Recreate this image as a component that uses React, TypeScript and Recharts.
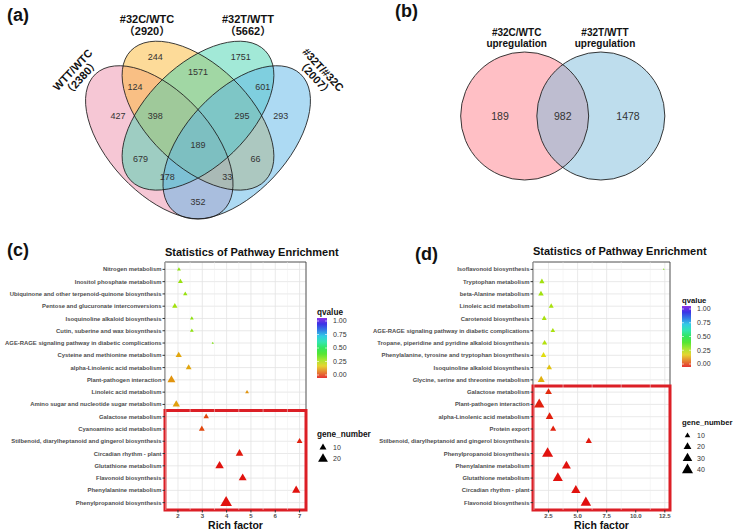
import React from 'react'
import {
  ScatterChart,
  Scatter,
  XAxis,
  YAxis,
  CartesianGrid,
  ReferenceArea,
  ReferenceLine,
} from 'recharts'

const FONT = '"Liberation Sans", Arial, "Noto Sans CJK SC", sans-serif'

// (a) four-set venn
const setNamesA = ['WTT/WTC', '#32C/WTC', '#32T/WTT', '#32T/#32C']
const setTotalsA = [2380, 2920, 5662, 2007]
const regionKeysA = ['A', 'B', 'C', 'D', 'AB', 'BC', 'CD', 'AC', 'BD', 'AD', 'ABC', 'BCD', 'ACD', 'ABD', 'ABCD']
const regionCountsA = [427, 244, 1751, 293, 124, 1571, 601, 679, 66, 352, 398, 295, 178, 33, 189]

// (b) two-set venn
const setNamesB = ['#32C/WTC', '#32T/WTT']
const regionCountsB = [189, 982, 1478]

// (c) enrichment
const pathwaysC = [
  'Nitrogen metabolism',
  'Inositol phosphate metabolism',
  'Ubiquinone and other terpenoid-quinone biosynthesis',
  'Pentose and glucuronate interconversions',
  'Isoquinoline alkaloid biosynthesis',
  'Cutin, suberine and wax biosynthesis',
  'AGE-RAGE signaling pathway in diabetic complications',
  'Cysteine and methionine metabolism',
  'alpha-Linolenic acid metabolism',
  'Plant-pathogen interaction',
  'Linoleic acid metabolism',
  'Amino sugar and nucleotide sugar metabolism',
  'Galactose metabolism',
  'Cyanoamino acid metabolism',
  'Stilbenoid, diarylheptanoid and gingerol biosynthesis',
  'Circadian rhythm - plant',
  'Glutathione metabolism',
  'Flavonoid biosynthesis',
  'Phenylalanine metabolism',
  'Phenylpropanoid biosynthesis',
]
const richC = [2.04, 2.1, 2.3, 1.87, 2.57, 2.57, 3.43, 2.03, 2.44, 1.73, 4.84, 1.93, 3.16, 2.98, 7.0, 4.53, 3.71, 4.66, 6.86, 3.98]
const genesC = [3, 5, 4, 6, 3, 3, 1, 8, 7, 13, 3, 11, 6, 7, 7, 12, 15, 13, 14, 28]
const qC = [0.31, 0.3, 0.3, 0.29, 0.31, 0.31, 0.33, 0.16, 0.16, 0.14, 0.14, 0.15, 0.06, 0.06, 0.02, 0.01, 0.005, 0.005, 0.005, 0.002]
const xTicksC = [2, 3, 4, 5, 6, 7]
const xMinorC = [1.5, 2.5, 3.5, 4.5, 5.5, 6.5]
const geneLegendC = [10, 20]

// (d) enrichment
const pathwaysD = [
  'Isoflavonoid biosynthesis',
  'Tryptophan metabolism',
  'beta-Alanine metabolism',
  'Linoleic acid metabolism',
  'Carotenoid biosynthesis',
  'AGE-RAGE signaling pathway in diabetic complications',
  'Tropane, piperidine and pyridine alkaloid biosynthesis',
  'Phenylalanine, tyrosine and tryptophan biosynthesis',
  'Isoquinoline alkaloid biosynthesis',
  'Glycine, serine and threonine metabolism',
  'Galactose metabolism',
  'Plant-pathogen interaction',
  'alpha-Linolenic acid metabolism',
  'Protein export',
  'Stilbenoid, diarylheptanoid and gingerol biosynthesis',
  'Phenylpropanoid biosynthesis',
  'Phenylalanine metabolism',
  'Glutathione metabolism',
  'Circadian rhythm - plant',
  'Flavonoid biosynthesis',
]
const richD = [12.41, 1.93, 1.85, 2.73, 2.13, 2.87, 2.16, 2.07, 2.56, 1.87, 2.5, 1.7, 2.59, 2.9, 5.96, 2.42, 4.04, 3.3, 4.85, 5.71]
const genesD = [1, 9, 10, 8, 8, 7, 9, 10, 10, 16, 15, 35, 19, 12, 13, 40, 26, 33, 28, 36]
const qD = [0.33, 0.29, 0.29, 0.28, 0.28, 0.28, 0.27, 0.22, 0.19, 0.17, 0.03, 0.02, 0.02, 0.02, 0.01, 0.005, 0.005, 0.003, 0.003, 0.001]
const xTicksD = [2.5, 5, 7.5, 10, 12.5]
const xMinorD = [1.25, 3.75, 6.25, 8.75, 11.25]
const geneLegendD = [10, 20, 30, 40]

const qLegendTicks = [1, 0.75, 0.5, 0.25, 0]

// ---------- layout ----------
// quad venn, VennDiagram-style units
const PXU_A = 267
const ELLIPSE_AXES_A = [0.35, 0.19]
const ELLIPSES_A = [
  { x: 0.355, y: 0.47, rot: 47, fill: '#EE8FAC' },
  { x: 0.5, y: 0.57, rot: 44, fill: '#FBB733' },
  { x: 0.5, y: 0.57, rot: -44, fill: '#45D3B0' },
  { x: 0.645, y: 0.47, rot: -47, fill: '#5BB6E8' },
]
const REGION_POS_A: Record<string, [number, number]> = {
  A: [0.2, 0.569], B: [0.34, 0.79], C: [0.66, 0.79], D: [0.81, 0.569],
  AB: [0.264, 0.678], BC: [0.5, 0.734], CD: [0.743, 0.678], AC: [0.285, 0.408],
  BD: [0.715, 0.408], AD: [0.5, 0.247], ABC: [0.34, 0.569], BCD: [0.665, 0.569],
  ACD: [0.385, 0.341], ABD: [0.61, 0.341], ABCD: [0.5, 0.461],
}
const SET_POS_A = [
  { x: 0.046, y: 0.728, rot: -47, anchor: 'center' },
  { x: 0.309, y: 0.9165, rot: 0, anchor: 'baseline' },
  { x: 0.687, y: 0.9165, rot: 0, anchor: 'baseline' },
  { x: 0.954, y: 0.728, rot: 47, anchor: 'center' },
]

const PXU_B = 64
const CIRCLES_B = [
  { x: -0.595, y: 0, fill: '#FF7F8C' },
  { x: 0.595, y: 0, fill: '#7DBCDB' },
]
const REGION_POS_B: [number, number][] = [[-0.98, 0], [0, 0], [1.02, 0]]
const SET_POS_B = [{ x: -0.72, y: 1.245 }, { x: 0.66, y: 1.245 }]

const qColor = (q: number) => `hsl(${Math.round(270 * q)}, 88%, 47%)`

const triangle = (cx: number, cy: number, w: number, fill: string, key?: any) => {
  const h = w * 0.866
  return (
    <polygon
      key={key}
      points={`${cx},${cy - (2 * h) / 3} ${cx - w / 2},${cy + h / 3} ${cx + w / 2},${cy + h / 3}`}
      fill={fill}
    />
  )
}

// ---------- venn shapes ----------
const EllipseFill = (p: any) => (
  <ellipse
    cx={p.cx}
    cy={p.cy}
    rx={ELLIPSE_AXES_A[0] * PXU_A}
    ry={ELLIPSE_AXES_A[1] * PXU_A}
    transform={`rotate(${p.payload.rot} ${p.cx} ${p.cy})`}
    fill={p.payload.fill}
    fillOpacity={0.5}
    stroke="none"
  />
)
const EllipseLine = (p: any) => (
  <ellipse
    cx={p.cx}
    cy={p.cy}
    rx={ELLIPSE_AXES_A[0] * PXU_A}
    ry={ELLIPSE_AXES_A[1] * PXU_A}
    transform={`rotate(${p.payload.rot} ${p.cx} ${p.cy})`}
    fill="none"
    stroke="#1a1a1a"
    strokeWidth={0.8}
  />
)
const CircleFill = (p: any) => (
  <circle cx={p.cx} cy={p.cy} r={PXU_B} fill={p.payload.fill} fillOpacity={0.5} stroke="none" />
)
const CircleLine = (p: any) => (
  <circle cx={p.cx} cy={p.cy} r={PXU_B} fill="none" stroke="#222" strokeWidth={0.9} />
)
const countText = (size: number) => (p: any) => (
  <text x={p.cx} y={p.cy} dy="0.35em" textAnchor="middle" fontSize={size} fontFamily={FONT} fill="#333">
    {p.payload.label}
  </text>
)
const SetTitleA = (p: any) => {
  const { label, sub, rot, anchor } = p.payload
  const y1 = anchor === 'center' ? -5.5 : 0
  const dy = anchor === 'center' ? '0.35em' : '0'
  return (
    <g transform={`translate(${p.cx},${p.cy}) rotate(${rot})`} fontFamily={FONT} fontWeight={700} fontSize={11} fill="#111">
      <text x={0} y={y1} dy={dy} textAnchor="middle">{label}</text>
      <text x={0} y={y1 + 11.5} dy={dy} textAnchor="middle">{sub}</text>
    </g>
  )
}
const SetTitleB = (p: any) => (
  <g fontFamily={FONT} fontWeight={700} fontSize={10} fill="#111">
    <text x={p.cx} y={p.cy} textAnchor="middle">{p.payload.label}</text>
    <text x={p.cx} y={p.cy + 11} textAnchor="middle">upregulation</text>
  </g>
)

function VennA() {
  const ellipses = ELLIPSES_A.map((e) => ({ ...e }))
  const regions = regionKeysA.map((k, i) => ({ x: REGION_POS_A[k][0], y: REGION_POS_A[k][1], label: regionCountsA[i] }))
  const sets = setNamesA.map((n, i) => ({ ...SET_POS_A[i], label: n, sub: `（${setTotalsA[i]}）` }))
  return (
    <ScatterChart width={370} height={242} margin={{ top: 1, right: 38.5, bottom: 1, left: 64.5 }}>
      <XAxis type="number" dataKey="x" domain={[0, 1]} hide />
      <YAxis type="number" dataKey="y" domain={[0.1, 1]} hide />
      <Scatter data={ellipses} shape={EllipseFill} isAnimationActive={false} />
      <Scatter data={ellipses} shape={EllipseLine} isAnimationActive={false} />
      <Scatter data={regions} shape={countText(9)} isAnimationActive={false} />
      <Scatter data={sets} shape={SetTitleA} isAnimationActive={false} />
    </ScatterChart>
  )
}

function VennB() {
  const circles = CIRCLES_B.map((c) => ({ ...c }))
  const regions = regionCountsB.map((v, i) => ({ x: REGION_POS_B[i][0], y: REGION_POS_B[i][1], label: v }))
  const sets = setNamesB.map((n, i) => ({ ...SET_POS_B[i], label: n }))
  return (
    <ScatterChart width={364} height={230} margin={{ top: 4, right: 36.85, bottom: 11.6, left: 58.35 }}>
      <XAxis type="number" dataKey="x" domain={[-2.1, 2.1]} hide />
      <YAxis type="number" dataKey="y" domain={[-1.6, 1.75]} hide />
      <Scatter data={circles} shape={CircleFill} isAnimationActive={false} />
      <Scatter data={circles} shape={CircleLine} isAnimationActive={false} />
      <Scatter data={regions} shape={countText(10.5)} isAnimationActive={false} />
      <Scatter data={sets} shape={SetTitleB} isAnimationActive={false} />
    </ScatterChart>
  )
}

// ---------- enrichment panel ----------
interface PanelProps {
  width: number
  names: string[]
  rich: number[]
  genes: number[]
  q: number[]
  xTicks: number[]
  xMinor: number[]
  boxFrom: number
  k: number
  yAxisWidth: number
  fmt: (v: number) => string
}

function PathwayPanel({ width, names, rich, genes, q, xTicks, xMinor, boxFrom, k, yAxisWidth, fmt }: PanelProps) {
  const data = names.map((n, i) => ({ idx: i + 1, rich: rich[i], genes: genes[i], q: q[i] }))
  const lo = Math.min(...rich)
  const hi = Math.max(...rich)
  const pad = (hi - lo) * 0.05
  const xDomain = [lo - pad, hi + pad]
  const yDomain = [0.4, names.length + 0.6]
  const yTicks = names.map((_, i) => i + 1)

  const YTick = (p: any) => (
    <text x={p.x} y={p.y} dy="0.35em" textAnchor="end" fontSize={5.9} fontWeight={700} fill="#4D4D4D" fontFamily={FONT}>
      {names[p.payload.value - 1]}
    </text>
  )
  const Tri = (p: any) => triangle(p.cx, p.cy, k * Math.sqrt(p.payload.genes), qColor(p.payload.q))

  return (
    <ScatterChart width={width} height={290} margin={{ top: 22, right: 64, bottom: 0, left: 3 }}>
      <CartesianGrid stroke="#E3E3E3" strokeWidth={0.8} />
      {xMinor.map((v) => (
        <ReferenceLine key={v} x={v} stroke="#EDEDED" strokeWidth={0.5} />
      ))}
      <XAxis
        type="number"
        dataKey="rich"
        domain={xDomain}
        ticks={xTicks}
        allowDataOverflow
        tickFormatter={fmt}
        tick={{ fontSize: 6, fontWeight: 700, fill: '#4D4D4D', fontFamily: FONT }}
        tickLine={{ stroke: '#333' }}
        tickSize={2.5}
        tickMargin={1}
        axisLine={false}
        height={20}
        label={{ value: 'Rich factor', position: 'insideBottom', offset: 1, fontSize: 10.5, fontWeight: 700, fill: '#111', fontFamily: FONT }}
      />
      <YAxis
        type="number"
        dataKey="idx"
        domain={yDomain}
        reversed
        ticks={yTicks}
        interval={0}
        allowDataOverflow
        tick={YTick}
        tickLine={{ stroke: '#333' }}
        tickSize={2.5}
        tickMargin={1}
        axisLine={false}
        width={yAxisWidth}
      />
      <ReferenceArea x1={xDomain[0]} x2={xDomain[1]} y1={yDomain[0]} y2={yDomain[1]} fill="none" stroke="#333" strokeWidth={0.8} />
      <Scatter data={data} shape={Tri} isAnimationActive={false} />
      <ReferenceArea x1={xDomain[0]} x2={xDomain[1]} y1={boxFrom} y2={yDomain[1]} fill="none" stroke="#DC1F26" strokeWidth={3} />
    </ScatterChart>
  )
}

// ---------- legends ----------
function Legends({ id, x, qTitleY, barY, barW, barH, labelX, fs, titleFs, geneTitleY, geneYs, geneVals, k }: any) {
  const inset = 3
  const pos = (v: number) => barY + inset + (1 - v) * (barH - 2 * inset)
  const stops = [0, 0.1, 0.2, 0.3, 0.4, 0.5, 0.6, 0.7, 0.8, 0.9, 1]
  return (
    <g fontFamily={FONT}>
      <defs>
        <linearGradient id={id} x1="0" y1="1" x2="0" y2="0">
          {stops.map((s) => (
            <stop key={s} offset={`${s * 100}%`} stopColor={qColor(s)} />
          ))}
        </linearGradient>
      </defs>
      <text x={x} y={qTitleY} fontSize={titleFs} fontWeight={700} fill="#111">qvalue</text>
      <rect x={x} y={barY} width={barW} height={barH} fill={`url(#${id})`} opacity={0.85} />
      {qLegendTicks.map((v) => (
        <g key={v}>
          <line x1={x} x2={x + 2} y1={pos(v)} y2={pos(v)} stroke="#fff" strokeWidth={0.6} />
          <line x1={x + barW - 2} x2={x + barW} y1={pos(v)} y2={pos(v)} stroke="#fff" strokeWidth={0.6} />
          <text x={labelX} y={pos(v)} dy="0.35em" fontSize={fs} fill="#333">{v.toFixed(2)}</text>
        </g>
      ))}
      <text x={x} y={geneTitleY} fontSize={titleFs} fontWeight={700} fill="#111">gene_number</text>
      {geneVals.map((g: number, i: number) => (
        <g key={g}>
          {triangle(x + barW / 2 + 1, geneYs[i], k * Math.sqrt(g), '#000')}
          <text x={labelX} y={geneYs[i]} dy="0.35em" fontSize={fs} fill="#333">{g}</text>
        </g>
      ))}
    </g>
  )
}

export default function App() {
  return (
    <div style={{ position: 'absolute', left: 0, top: 0, width: 734, height: 530, background: '#fff', overflow: 'hidden' }}>
      <div style={{ position: 'absolute', left: 0, top: 0 }}>
        <VennA />
      </div>
      <div style={{ position: 'absolute', left: 370, top: 0 }}>
        <VennB />
      </div>
      <div style={{ position: 'absolute', left: 0, top: 240 }}>
        <PathwayPanel
          width={370}
          names={pathwaysC}
          rich={richC}
          genes={genesC}
          q={qC}
          xTicks={xTicksC}
          xMinor={xMinorC}
          boxFrom={12.5}
          k={2.2}
          yAxisWidth={162}
          fmt={(v) => String(v)}
        />
      </div>
      <div style={{ position: 'absolute', left: 370, top: 240 }}>
        <PathwayPanel
          width={364}
          names={pathwaysD}
          rich={richD}
          genes={genesD}
          q={qD}
          xTicks={xTicksD}
          xMinor={xMinorD}
          boxFrom={10.5}
          k={1.75}
          yAxisWidth={160}
          fmt={(v) => v.toFixed(1)}
        />
      </div>
      <svg width={734} height={530} style={{ position: 'absolute', left: 0, top: 0, pointerEvents: 'none' }}>
        <g fontFamily={FONT} fontWeight={700} fill="#111">
          <text x={7} y={21} fontSize={18}>(a)</text>
          <text x={395} y={17} fontSize={18}>(b)</text>
          <text x={7} y={256} fontSize={18}>(c)</text>
          <text x={415} y={260} fontSize={18}>(d)</text>
          <text x={165} y={256} fontSize={11}>Statistics of Pathway Enrichment</text>
          <text x={533} y={255} fontSize={11}>Statistics of Pathway Enrichment</text>
        </g>
        <Legends
          id="qbarC"
          x={317}
          qTitleY={315}
          barY={318}
          barW={10}
          barH={60}
          labelX={333}
          fs={7}
          titleFs={8.2}
          geneTitleY={437}
          geneYs={[447.5, 459]}
          geneVals={geneLegendC}
          k={2.2}
        />
        <Legends
          id="qbarD"
          x={682}
          qTitleY={303}
          barY={306}
          barW={9}
          barH={61}
          labelX={697}
          fs={7}
          titleFs={7.7}
          geneTitleY={424.5}
          geneYs={[435.7, 446.7, 458.3, 470]}
          geneVals={geneLegendD}
          k={1.75}
        />
      </svg>
    </div>
  )
}
